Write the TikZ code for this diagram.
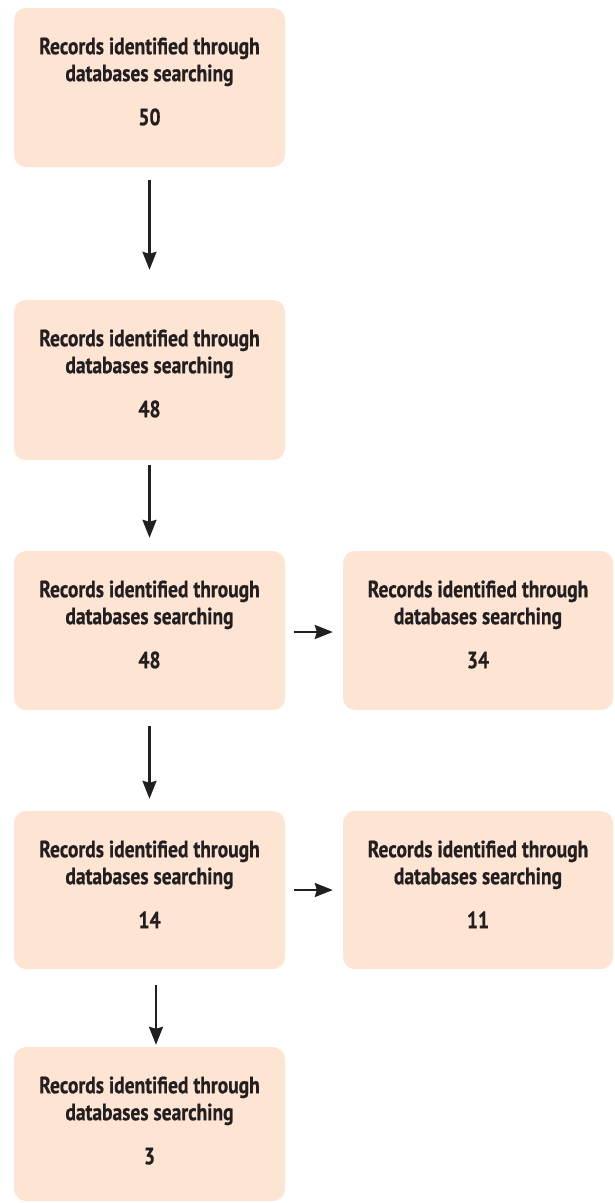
\documentclass[tikz,border=0pt]{standalone}
\usepackage{fontspec}
\newfontfamily\boxfont{PT Sans Bold}[FakeStretch=0.83, FakeBold=0.6]
\usetikzlibrary{arrows.meta}
\definecolor{boxfill}{HTML}{FDE4D3}
\definecolor{ink}{HTML}{231F20}
\tikzset{
  box/.style={rectangle, fill=boxfill, rounded corners=12pt, minimum width=271pt, minimum height=159pt, inner sep=0pt},
  txt/.style={align=center, font=\fontsize{23.5}{27}\boxfont, text=ink, inner sep=0pt, anchor=north},
  arr/.style={draw=ink, line width=2.2pt, -{Stealth[length=18pt,width=14pt,inset=2pt]}}
}
\begin{document}
\begin{tikzpicture}[x=1pt,y=-1pt]
\useasboundingbox (0,0) rectangle (614,1203);
\node[box] (b1) at (149.5,87.5) {};
\node[box, minimum height=160pt] (b2) at (149.5,380) {};
\node[box] (b3) at (149.5,630.5) {};
\node[box, minimum width=270pt] (b3r) at (478,630.5) {};
\node[box, minimum height=158pt] (b4) at (149.5,890) {};
\node[box, minimum width=270pt, minimum height=158pt] (b4r) at (478,890) {};
\node[box, minimum height=154pt] (b5) at (149.5,1124) {};

\node[txt] (t1) at ([yshift=-29.5pt]b1.north) {Records identified through\\databases searching\\[17pt]50};
\node[txt] (t2) at ([yshift=-29.5pt]b2.north) {Records identified through\\databases searching\\[17pt]48};
\node[txt] (t3) at ([yshift=-29.5pt]b3.north) {Records identified through\\databases searching\\[17pt]48};
\node[txt] (t3r) at ([yshift=-29.5pt]b3r.north) {Records identified through\\databases searching\\[17pt]34};
\node[txt] (t4) at ([yshift=-29.5pt]b4.north) {Records identified through\\databases searching\\[17pt]14};
\node[txt] (t4r) at ([yshift=-29.5pt]b4r.north) {Records identified through\\databases searching\\[17pt]11};
\node[txt] (t5) at ([yshift=-29.5pt]b5.north) {Records identified through\\databases searching\\[17pt]3};

\draw[arr] ([yshift=-13pt]b1.south) -- ([yshift=30pt]b2.north);
\draw[arr] ([yshift=-5pt]b2.south) -- ([yshift=13pt]b3.north);
\draw[arr] ([yshift=-16pt]b3.south) -- ([yshift=12pt]b4.north);
\draw[arr] ([xshift=6.5pt,yshift=-16pt]b4.south) -- ([xshift=6.5pt,yshift=2pt]b5.north);
\draw[arr] ([xshift=9pt,yshift=-1.5pt]b3.east) -- ([xshift=-10pt,yshift=-1.5pt]b3r.west);
\draw[arr] ([xshift=9pt]b4.east) -- ([xshift=-10pt]b4r.west);
\end{tikzpicture}
\end{document}
